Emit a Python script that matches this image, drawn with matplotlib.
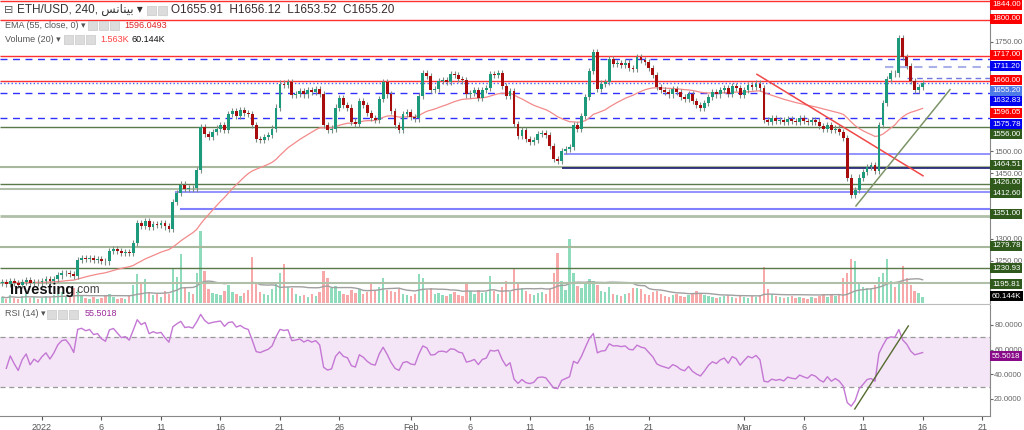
import numpy as np
import pandas as pd
import matplotlib
matplotlib.use("Agg")
import matplotlib.pyplot as plt
from matplotlib.patches import Rectangle

plt.rcParams["font.family"] = ["Liberation Sans", "DejaVu Sans"]

# 8h candles, x = days from 1 Jan 2022, first candle 28 Dec 16:00
start_day = -10 / 3
closes = [
    1200, 1197, 1203, 1199, 1195, 1201, 1205, 1198, 1202, 1200,
    1204, 1207, 1203, 1208, 1216, 1221, 1222, 1219, 1214, 1252,
    1255, 1253, 1256, 1252, 1254, 1250, 1248, 1272, 1276, 1272,
    1268, 1270, 1267, 1290, 1336, 1330, 1341, 1326, 1334, 1332,
    1335, 1328, 1322, 1385, 1405, 1424, 1413, 1417, 1415, 1458,
    1555, 1540, 1532, 1545, 1552, 1560, 1548, 1585, 1592, 1580,
    1594, 1588, 1585, 1560, 1528, 1525, 1532, 1538, 1552, 1600,
    1655, 1652, 1658, 1628, 1632, 1638, 1630, 1640, 1635, 1642,
    1632, 1560, 1548, 1552, 1600, 1622, 1605, 1600, 1568, 1562,
    1615, 1605, 1588, 1576, 1572, 1620, 1658, 1630, 1592, 1560,
    1548, 1585, 1590, 1578, 1575, 1627, 1680, 1672, 1640, 1642,
    1660, 1662, 1658, 1676, 1674, 1665, 1662, 1630, 1634, 1640,
    1622, 1640, 1645, 1676, 1674, 1678, 1650, 1627, 1638, 1562,
    1535, 1548, 1528, 1522, 1526, 1540, 1542, 1538, 1512, 1482,
    1478, 1500, 1505, 1510, 1560, 1552, 1580, 1625, 1684, 1727,
    1642, 1655, 1658, 1710, 1700, 1702, 1698, 1703, 1690, 1688,
    1715, 1708, 1705, 1690, 1675, 1648, 1640, 1635, 1630, 1642,
    1636, 1625, 1620, 1632, 1615, 1605, 1598, 1610, 1625, 1635,
    1630, 1640, 1645, 1632, 1650, 1645, 1628, 1640, 1652, 1648,
    1655, 1645, 1572, 1568, 1575, 1570, 1572, 1566, 1574, 1570,
    1568, 1575, 1570, 1566, 1572, 1568, 1558, 1552, 1560, 1548,
    1552, 1545, 1530, 1440, 1400, 1412, 1440, 1452, 1465, 1468,
    1455, 1560, 1610, 1665, 1680, 1678, 1760, 1715, 1695, 1660,
    1640, 1648, 1655.2,
]
first_open = 1198
volumes = [
    60, 45, 80, 55, 40, 70, 90, 50, 65, 40,
    55, 75, 60, 85, 90, 110, 70, 60, 150, 130,
    70, 50, 45, 60, 40, 55, 80, 90, 60, 45,
    50, 40, 70, 180, 290, 200, 240, 110, 80, 95,
    60, 120, 90, 340, 260, 490, 150, 110, 90, 300,
    720, 320, 140, 100, 90, 80, 120, 180, 110, 90,
    70, 100, 130, 460, 200, 110, 90, 80, 140, 200,
    300, 390, 160, 150, 90, 70, 80, 60, 90, 70,
    110, 320, 250, 150, 170, 120, 90, 80, 130, 100,
    140, 90, 110, 190, 120, 160, 250, 130, 120, 110,
    140, 90, 80, 70, 90, 290, 250, 130, 150, 90,
    100, 80, 70, 90, 110, 80, 70, 190, 120, 90,
    130, 100, 110, 270, 120, 90, 160, 220, 110, 340,
    200, 150, 120, 90, 80, 100, 110, 90, 140, 300,
    500, 220, 130, 640, 300, 170, 150, 200, 240, 220,
    180, 120, 110, 160, 90, 80, 70, 90, 100, 150,
    150, 140, 90, 80, 110, 120, 90, 70, 60, 80,
    90, 70, 60, 80, 100, 120, 90, 80, 70, 60,
    50, 60, 70, 80, 60, 50, 70, 60, 50, 70,
    60, 80, 360, 140, 90, 70, 60, 50, 60, 70,
    50, 60, 55, 45, 60, 50, 70, 90, 60, 80,
    70, 90, 250, 300, 440, 420, 200, 160, 150, 140,
    180, 260, 300, 440, 220, 160, 200, 370, 250, 180,
    120, 100, 60,
]

# horizontal levels: (price, colour, style, width, start day)
levels = [
    (1844, "#ff3030", "-", 1.0, None),
    (1800, "#ff3030", "-", 1.0, None),
    (1717, "#ff3030", "-", 1.0, None),
    (1711.2, "#3030ff", (0, (5, 4)), 1.0, None),
    (1660, "#ff3030", "-", 1.0, None),
    (1655.2, "#4060ff", ":", 1.0, None),
    (1632.83, "#3030ff", (0, (5, 4)), 1.0, None),
    (1575.78, "#3030ff", (0, (5, 4)), 1.0, None),
    (1556, "#5a7a4a", "-", 1.0, None),
    (1494, "#8080ff", "-", 1.2, 43.9),
    (1464.51, "#a8b89c", "-", 1.5, None),
    (1462, "#1a1a70", "-", 1.2, 43.7),
    (1426, "#5a7a4a", "-", 1.0, None),
    (1413, "#b0c0a8", "-", 1.5, None),
    (1406, "#8080ff", "-", 1.2, 11.2),
    (1367, "#8080ff", "-", 1.5, 11.6),
    (1353, "#b0c0a8", "-", 2.0, None),
    (1281, "#a8b89c", "-", 1.5, None),
    (1232, "#5a7a4a", "-", 1.0, None),
    (1198, "#b0c0a8", "-", 1.5, None),
]

tick_days = [0, 5, 10, 15, 20, 25, 31, 36, 41, 46, 51, 59, 64, 69, 74, 79]
tick_names = ["2022", "6", "11", "16", "21", "26", "Feb", "6", "11", "16", "21",
              "Mar", "6", "11", "16", "21"]

W, H = 1024, 430


def fx(px):
    return px / W


def fy(py):
    return 1 - py / H


def wilder_rsi(values, n=14):
    # neutral seed so the line does not start at an extreme
    ag, al = 1.0, 1.0
    out = [np.nan]
    for k in range(1, len(values)):
        d = values[k] - values[k - 1]
        ag = (ag * (n - 1) + max(d, 0)) / n
        al = (al * (n - 1) + max(-d, 0)) / n
        out.append(100 - 100 / (1 + ag / al))
    return np.array(out)


def main():
    c = np.array(closes, dtype=float)
    o = np.concatenate([[first_open], c[:-1]])
    x = start_day + np.arange(len(c)) / 3
    up = c >= o
    hi = np.maximum(o, c) + 7
    lo = np.minimum(o, c) - 7

    fig = plt.figure(figsize=(W / 100, H / 100), dpi=100)
    ax = fig.add_axes([0, fy(303), fx(990), 303 / H])
    rsi_ax = fig.add_axes([0, fy(416), fx(990), (416 - 304) / H], sharex=ax)

    xmin, xmax = -42 / 11.9, (990 - 42) / 11.9

    # volume
    vax = ax.twinx()
    vax.set_ylim(0, 3030)
    vax.axis("off")
    vcol = np.where(up, "#8fdcbc", "#f7a8a8")
    vax.bar(x, volumes, width=0.2, color=vcol, linewidth=0)
    vma = pd.Series(volumes, dtype=float).rolling(20, min_periods=1).mean()
    vax.plot(x, vma, color="#a0a0a0", lw=1.0)
    vax.set_zorder(0)
    ax.set_zorder(1)
    ax.patch.set_visible(False)

    for p, col, ls, lw, d0 in levels:
        ax.hlines(p, xmin if d0 is None else d0, xmax, colors=col, linestyles=ls, lw=lw, zorder=1)

    # dashed marks near the recent top
    ax.hlines(1693, 70.8, xmax, colors="#aab0e8", linestyles=(0, (4, 3)), lw=1.5, zorder=1)
    ax.hlines(1668, 72.7, xmax, colors="#7078e0", linestyles=(0, (4, 3)), lw=1.0, zorder=1)

    ema = pd.Series(c).ewm(span=36, adjust=False).mean()
    ax.plot(x, ema, color="#f38a8a", lw=0.9, zorder=2)

    # trend lines
    ax.plot([60.08, 74.03], [1676, 1444], color="#f04848", lw=1.1, zorder=2)
    ax.plot([68.4, 76.3], [1375, 1641], color="#7d9468", lw=1.1, zorder=2)

    # candles
    ax.vlines(x, lo, hi, colors="#7f8c84", lw=0.8, zorder=3)
    body_col = np.where(up, "#1d9a7c", "#a80c0c")
    body_h = np.maximum(np.abs(c - o), 1.5)
    ax.bar(x, body_h, bottom=np.minimum(o, c), width=0.24, color=body_col,
           linewidth=0, zorder=4)

    ax.set_xlim(xmin, xmax)
    ax.set_ylim(1153, 1846)
    ax.yaxis.tick_right()
    ax.set_yticks([1250, 1300, 1450, 1500, 1750])
    ax.set_yticklabels(["%.2f" % v for v in [1250, 1300, 1450, 1500, 1750]])
    ax.tick_params(axis="y", labelsize=5.7, colors="#666", length=2, pad=1)
    ax.tick_params(axis="x", bottom=False, labelbottom=False)
    for s in ["top", "left", "bottom"]:
        ax.spines[s].set_visible(False)
    ax.spines["right"].set_color("#888")

    # RSI 14
    rsi = wilder_rsi(c)
    rsi_ax.axhspan(30, 70, color="#f4e6f6", lw=0)
    rsi_ax.axhline(70, color="#999", ls=(0, (4, 3)), lw=0.9)
    rsi_ax.axhline(30, color="#999", ls=(0, (4, 3)), lw=0.9)
    rsi_ax.plot(x, rsi, color="#c477d4", lw=1.0)
    rsi_ax.plot([68.3, 72.8], [11.9, 79.2], color="#556b2f", lw=1.0)
    rsi_ax.set_ylim(6.2, 97)
    rsi_ax.yaxis.tick_right()
    rsi_ax.set_yticks([20, 40, 60, 80])
    rsi_ax.set_yticklabels(["20.0000", "40.0000", "60.0000", "80.0000"])
    rsi_ax.tick_params(axis="y", labelsize=5.7, colors="#666", length=2, pad=1)
    rsi_ax.set_xticks(tick_days)
    rsi_ax.set_xticklabels(tick_names)
    rsi_ax.tick_params(axis="x", labelsize=6.5, colors="#555", length=3, pad=2)
    rsi_ax.spines["left"].set_visible(False)
    rsi_ax.spines["top"].set_color("#bbb")
    rsi_ax.spines["right"].set_color("#888")
    rsi_ax.spines["bottom"].set_color("#888")
    rsi_ax.set_xlim(xmin, xmax)

    # price labels on the right scale
    labels = [
        ("1844.00", 5, "#ff0000"), ("1800.00", 19, "#ff0000"),
        ("1717.00", 55, "#ff0000"), ("1711.20", 66, "#0000f0"),
        ("1660.00", 80, "#ff0000"), ("1655.20", 91, "#4d7ae6"),
        ("1632.83", 101, "#0000f0"), ("1596.05", 113, "#ff0000"),
        ("1575.78", 124, "#0000f0"), ("1556.00", 134, "#2f5a1c"),
        ("1464.51", 165, "#2f5a1c"), ("1426.00", 183, "#2f5a1c"),
        ("1412.60", 193, "#2f5a1c"), ("1351.00", 214, "#2f5a1c"),
        ("1279.78", 246, "#2f5a1c"), ("1230.93", 268, "#2f5a1c"),
        ("1195.81", 284, "#2f5a1c"), ("60.144K", 296, "#000000"),
        ("55.5018", 356, "#880a88"),
    ]
    for txt, py, col in labels:
        fig.text(fx(992), fy(py), txt, fontsize=5.7, color="white", va="center",
                 ha="left", bbox=dict(boxstyle="square,pad=0.2", fc=col, ec="none"),
                 zorder=10)

    def icons(px, py, n):
        for k in range(n):
            fig.patches.append(Rectangle((fx(px + k * 11), fy(py + 4.5)), fx(9), 9 / H,
                                         transform=fig.transFigure, fc="#dcdcdc",
                                         ec="#c8c8c8", lw=0.5, zorder=9))

    # header
    fig.text(fx(4), fy(10), "\u229f", fontsize=8, color="#555", va="center")
    arabic = "\ufeb2\ufee7\ufe8e\ufee8\ufef4\ufe91"
    fig.text(fx(17), fy(10), "ETH/USD, 240, " + arabic + " \u25be", fontsize=8.5,
             color="#333", va="center")
    icons(147, 10, 2)
    fig.text(fx(171), fy(10), "O1655.91  H1656.12  L1653.52  C1655.20", fontsize=8.5,
             color="#3a2a2a", va="center")
    fig.text(fx(5), fy(25), "EMA (55, close, 0) \u25be", fontsize=6.5, color="#555",
             va="center")
    icons(88, 25, 3)
    fig.text(fx(124), fy(25), "1596.0493", fontsize=6.5, color="#e02020", va="center")
    fig.text(fx(5), fy(39), "Volume (20) \u25be", fontsize=6.5, color="#555", va="center")
    icons(64, 39, 3)
    fig.text(fx(100), fy(39), "1.563K", fontsize=6.5, color="#ff4040", va="center")
    fig.text(fx(131), fy(39), "60.144K", fontsize=6.5, color="#111", va="center")
    fig.text(fx(5), fy(314), "RSI (14) \u25be", fontsize=6.5, color="#555", va="center")
    icons(47, 314, 3)
    fig.text(fx(85), fy(314), "55.5018", fontsize=6.5, color="#9a2a9a", va="center")

    # watermark
    logo = fig.text(fx(10), fy(290), "Investing", fontsize=10.5, fontweight="bold",
                    color="#111", va="center", zorder=8)
    ax.annotate(".com", xy=(1, 0.1), xycoords=logo, xytext=(0.5, 0),
                textcoords="offset points", fontsize=8.5, color="#444",
                va="bottom", ha="left", annotation_clip=False, zorder=8)

    fig.savefig("out.png", dpi=100)


if __name__ == "__main__":
    main()
